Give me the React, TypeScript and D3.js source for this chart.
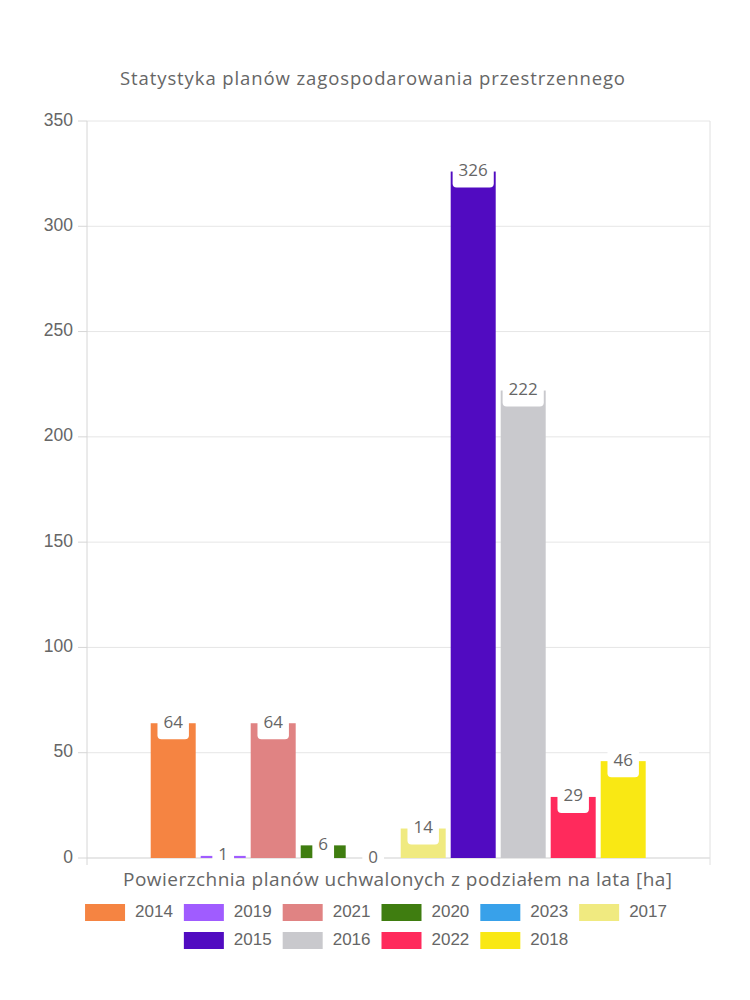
import React from "react";
import * as d3 from "d3";

const years = ["2014", "2019", "2021", "2020", "2023", "2017", "2015", "2016", "2022", "2018"];
const values = [64, 1, 64, 6, 0, 14, 326, 222, 29, 46];
const colors = ["#f58442", "#a05cff", "#e08383", "#3f7d10", "#38a1ea", "#f0ea80", "#510bc1", "#c9c9cd", "#ff2a5c", "#f9e814"];
const yTicks = [0, 50, 100, 150, 200, 250, 300, 350];
const legendRows = [
  ["2014", "2019", "2021", "2020", "2023", "2017"],
  ["2015", "2016", "2022", "2018"],
];
const title = "Statystyka planów zagospodarowania przestrzennego";
const xTitle = "Powierzchnia planów uchwalonych z podziałem na lata [ha]";

const W = 750;
const H = 1000;
const plot = { left: 87, right: 710, top: 121, bottom: 858 };
const roundFont = "'Open Sans', 'Noto Sans', sans-serif";
const axisFont = "'Liberation Sans', Arial, sans-serif";

let ctx: CanvasRenderingContext2D | null = null;
function measure(text: string, font: string): number {
  if (!ctx) ctx = document.createElement("canvas").getContext("2d");
  if (!ctx) return text.length * 9;
  ctx.font = font;
  return ctx.measureText(text).width;
}

export default function App() {
  const y = d3.scaleLinear().domain([0, 350]).range([plot.bottom, plot.top]);
  const x = d3
    .scaleBand<string>()
    .domain(years)
    .range([148.2, 648.2])
    .paddingInner(0.1)
    .paddingOuter(0.05);

  const labelFont = `17px 'Open Sans'`;
  const legendFont = `17px 'Liberation Sans'`;

  const legendItems: { year: string; x: number; y: number; color: string }[] = [];
  legendRows.forEach((row, ri) => {
    const widths = row.map((yr) => 40 + 10 + measure(yr, legendFont));
    const total = widths.reduce((a, b) => a + b, 0) + (row.length - 1) * 11;
    let cx = 376 - total / 2;
    row.forEach((yr, i) => {
      legendItems.push({ year: yr, x: cx, y: 904 + ri * 28, color: colors[years.indexOf(yr)] });
      cx += widths[i] + 11;
    });
  });

  return (
    <svg
      width={W}
      height={H}
      style={{ position: "absolute", left: 0, top: 0, background: "#fff" }}
    >
      <text
        x={120}
        y={80}
        dominantBaseline="middle"
        fontFamily={roundFont}
        fontSize={18.5}
        fill="#666"
        textLength={505}
        lengthAdjust="spacing"
      >
        {title}
      </text>

      {/* grid */}
      {yTicks.map((t) => (
        <g key={t}>
          <line x1={plot.left} x2={plot.right} y1={y(t)} y2={y(t)} stroke={t === 0 ? "#cfcfcf" : "#e6e6e6"} strokeWidth={1} />
          <line x1={78} x2={plot.left} y1={y(t)} y2={y(t)} stroke="#d6d6d6" strokeWidth={1} />
          <text
            x={73}
            y={y(t)}
            textAnchor="end"
            dominantBaseline="middle"
            fontFamily={axisFont}
            fontSize={17.5}
            fill="#666"
          >
            {t}
          </text>
        </g>
      ))}
      <line x1={plot.left} x2={plot.left} y1={plot.top} y2={865} stroke="#d6d6d6" />
      <line x1={plot.right} x2={plot.right} y1={plot.top} y2={865} stroke="#e0e0e0" />

      {/* bars */}
      {years.map((yr, i) => (
        <rect
          key={yr}
          x={x(yr)}
          y={y(values[i])}
          width={x.bandwidth()}
          height={y(0) - y(values[i])}
          fill={colors[i]}
        />
      ))}

      {/* value labels */}
      {years.map((yr, i) => {
        const txt = String(values[i]);
        const tw = measure(txt, labelFont);
        const bw = tw + 12;
        const cx = (x(yr) as number) + x.bandwidth() / 2;
        const cy = y(values[i]);
        return (
          <g key={"l" + yr}>
            <rect x={cx - bw / 2} y={cy - 16} width={bw} height={32} rx={4} fill="#fff" />
            <text
              x={cx}
              y={cy}
              textAnchor="middle"
              dominantBaseline="middle"
              fontFamily={roundFont}
              fontSize={17}
              fill="#666"
            >
              {txt}
            </text>
          </g>
        );
      })}

      <text
        x={123}
        y={881}
        dominantBaseline="middle"
        fontFamily={roundFont}
        fontSize={19}
        fill="#666"
        textLength={549}
        lengthAdjust="spacing"
      >
        {xTitle}
      </text>

      {legendItems.map((it) => (
        <g key={"lg" + it.year}>
          <rect x={it.x} y={it.y} width={40} height={17} fill={it.color} />
          <text
            x={it.x + 50}
            y={it.y + 9}
            dominantBaseline="middle"
            fontFamily={axisFont}
            fontSize={17}
            fill="#666"
          >
            {it.year}
          </text>
        </g>
      ))}
    </svg>
  );
}
